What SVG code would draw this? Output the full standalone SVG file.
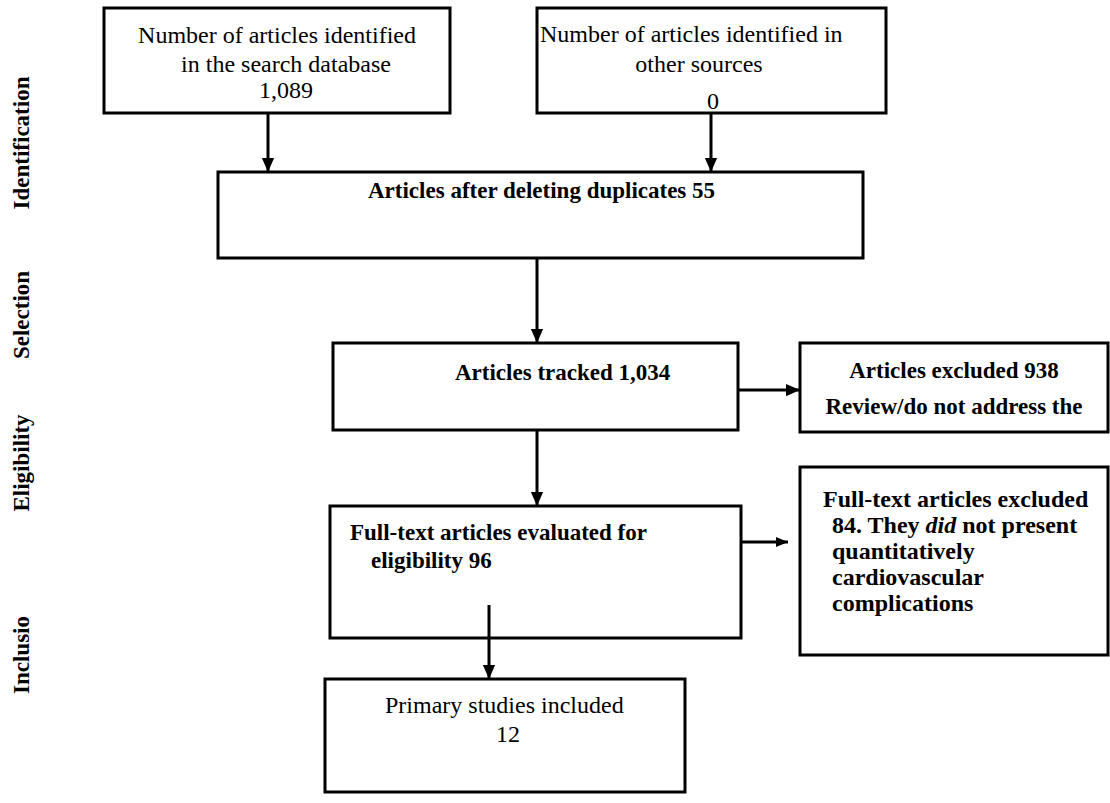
<svg xmlns="http://www.w3.org/2000/svg" width="1110" height="803" viewBox="0 0 1110 803">
<defs>
<style>
.box{fill:#fff;stroke:#000;stroke-width:3}
.t{font-family:"Liberation Serif","Times New Roman",serif;font-size:24px;fill:#000}
.b{font-family:"Liberation Serif","Times New Roman",serif;font-size:23px;font-weight:bold;fill:#000}
.lab{font-family:"Liberation Serif","Times New Roman",serif;font-size:23px;font-weight:bold;fill:#000}
.c{fill:none;stroke:#000;stroke-width:3}
</style>
<marker id="ah" markerUnits="userSpaceOnUse" markerWidth="14" markerHeight="16" refX="16" refY="7" orient="auto" viewBox="0 0 16 14">
<path d="M0,0 L16,7 L0,14 Z" fill="#000"/>
</marker>
<marker id="ahs" markerUnits="userSpaceOnUse" markerWidth="12" markerHeight="10" refX="12" refY="5" orient="auto" viewBox="0 0 12 10">
<path d="M0,0 L12,5 L0,10 Z" fill="#000"/>
</marker>
</defs>
<rect width="1110" height="803" fill="#fff"/>

<g id="labels">
<text class="lab" transform="translate(29,143) rotate(-90)" text-anchor="middle">Identification</text>
<text class="lab" transform="translate(29,315) rotate(-90)" text-anchor="middle">Selection</text>
<text class="lab" transform="translate(29,463) rotate(-90)" text-anchor="middle">Eligibility</text>
<text class="lab" transform="translate(29,655) rotate(-90)" text-anchor="middle">Inclusio</text>
</g>

<g id="n1">
<rect class="box" x="104" y="8" width="346" height="105"/>
<text class="t" x="277" y="43" text-anchor="middle">Number of articles identified</text>
<text class="t" x="286" y="72" text-anchor="middle">in the search database</text>
<text class="t" x="286" y="98" text-anchor="middle">1,089</text>
</g>

<g id="n2">
<rect class="box" x="537" y="8" width="349" height="105"/>
<text class="t" x="540" y="42">Number of articles identified in</text>
<text class="t" x="699" y="72" text-anchor="middle">other sources</text>
<text class="t" x="713" y="109" text-anchor="middle">0</text>
</g>

<g id="n3">
<rect class="box" x="218" y="172" width="645" height="86"/>
<text class="b" x="368" y="198">Articles after deleting duplicates 55</text>
</g>

<g id="n4">
<rect class="box" x="333" y="343" width="405" height="87"/>
<text class="b" x="455" y="380">Articles tracked 1,034</text>
</g>

<g id="n5">
<rect class="box" x="800" y="343" width="308" height="89"/>
<text class="b" x="954" y="378" text-anchor="middle">Articles excluded 938</text>
<text class="b" x="954" y="414" text-anchor="middle">Review/do not address the</text>
</g>

<g id="n6">
<rect class="box" x="330" y="506" width="411" height="132"/>
<text class="b" x="350" y="540">Full-text articles evaluated for</text>
<text class="b" x="371" y="568">eligibility 96</text>
</g>

<g id="n7">
<rect class="box" x="325" y="679" width="360" height="113"/>
<text class="t" x="385" y="713">Primary studies included</text>
<text class="t" x="508" y="742" text-anchor="middle">12</text>
</g>

<g id="n8">
<rect class="box" x="800" y="467" width="308" height="188"/>
<text class="b" x="823" y="507" style="font-size:24px">Full-text articles excluded</text>
<text class="b" x="832" y="533" style="font-size:24px">84. They <tspan font-style="italic">did</tspan> not present</text>
<text class="b" x="832" y="559" style="font-size:24px">quantitatively</text>
<text class="b" x="832" y="585" style="font-size:24px">cardiovascular</text>
<text class="b" x="832" y="611" style="font-size:24px">complications</text>
</g>

<g id="connectors">
<path class="c" d="M268,114 V172" marker-end="url(#ah)"/>
<path class="c" d="M711,114 V172" marker-end="url(#ah)"/>
<path class="c" d="M537,259 V343" marker-end="url(#ah)"/>
<path class="c" d="M537,431 V506" marker-end="url(#ah)"/>
<path class="c" d="M739,390 H800" stroke-width="4" marker-end="url(#ah)"/>
<path class="c" d="M742,542 H788" stroke-width="2" marker-end="url(#ahs)"/>
<path class="c" d="M489,605 V679" marker-end="url(#ah)"/>
</g>
</svg>
